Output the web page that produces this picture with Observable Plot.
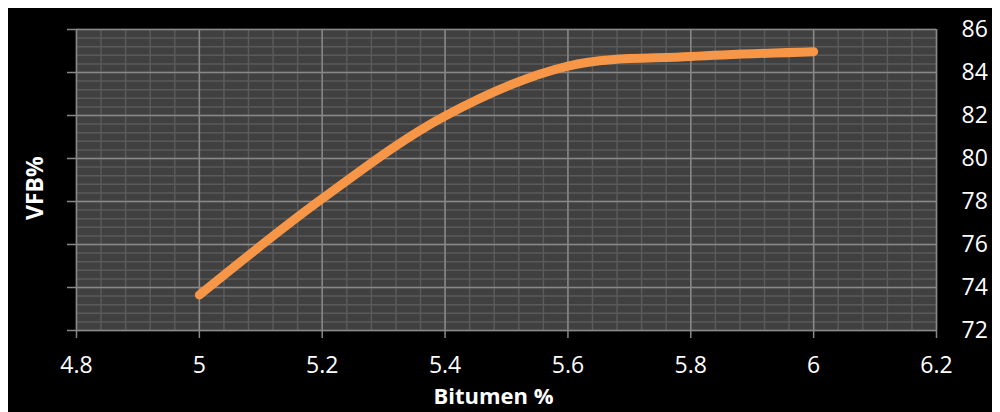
<!DOCTYPE html>
<html>
<head>
<meta charset="utf-8">
<script src="https://cdn.jsdelivr.net/npm/d3@7"></script>
<script src="https://cdn.jsdelivr.net/npm/@observablehq/plot@0.6"></script>
<style>
  html, body { background: #ffffff; }
  body { margin: 8px; overflow: hidden; }
  svg { display: block; max-width: none !important; }
</style>
</head>
<body>
<div id="chart"></div>
<script>
// Data
const bitumen = [5.0, 5.2, 5.4, 5.6, 5.8, 6.0];
const vfb = [73.65, 78.13, 81.98, 84.30, 84.74, 84.97];

const xTicks = [4.8, 5.0, 5.2, 5.4, 5.6, 5.8, 6.0, 6.2];
const xTickLabels = ["4.8", "5", "5.2", "5.4", "5.6", "5.8", "6", "6.2"];
const yTicks = [72, 74, 76, 78, 80, 82, 84, 86];

const xMinorStep = 0.04;
const yMinorStep = 0.4;

const data = bitumen.map((b, i) => ({b, v: vfb[i]}));
const xMinor = d3.range(0, 36).map(i => +(4.8 + i * xMinorStep).toFixed(2));
const yMinor = d3.range(0, 36).map(i => +(72 + i * yMinorStep).toFixed(1));

const chart = Plot.plot({
  width: 1000,
  height: 412,
  marginLeft: 68,
  marginRight: 72,
  marginTop: 21,
  marginBottom: 90,
  style: {background: "#000000", color: "#ffffff", fontFamily: "'Open Sans', sans-serif", fontSize: "23px", overflow: "visible", maxWidth: "none"},
  x: {domain: [4.8, 6.2]},
  y: {domain: [72, 86]},
  marks: [
    Plot.frame({fill: "#404040", stroke: null}),
    Plot.ruleX(xMinor, {stroke: "#5a5a5a", strokeWidth: 1.5}),
    Plot.ruleY(yMinor, {stroke: "#5a5a5a", strokeWidth: 1.5}),
    Plot.ruleX(xTicks, {stroke: "#888888", strokeWidth: 1.5}),
    Plot.ruleY(yTicks, {stroke: "#888888", strokeWidth: 1.5}),
    Plot.axisX({ticks: xTicks, tickFormat: (d, i) => xTickLabels[i], tickSize: 8, tickPadding: 18, stroke: "#888888", strokeWidth: 1.5, fill: "#ffffff", fontSize: 23, label: null}),
    Plot.axisY({anchor: "left", ticks: yTicks, tickFormat: () => "", tickSize: 9, stroke: "#888888", strokeWidth: 1.5, label: null}),
    Plot.axisY({anchor: "right", ticks: yTicks, tickSize: 0, tickPadding: 25, fill: "#ffffff", fontSize: 23, label: null}),
    Plot.line(data, {x: "b", y: "v", curve: "catmull-rom", stroke: "#f79646", strokeWidth: 9, strokeLinecap: "round", strokeLinejoin: "round"}),
    Plot.text(["Bitumen %"], {frameAnchor: "bottom", dx: -13, dy: 66, lineAnchor: "middle", fill: "#ffffff", fontWeight: "bold", fontSize: 22}),
    Plot.text(["VFB%"], {frameAnchor: "left", dx: -41, dy: 40, rotate: -90, lineAnchor: "middle", fill: "#ffffff", fontWeight: "bold", fontSize: 23})
  ]
});
document.getElementById("chart").appendChild(chart);
</script>
</body>
</html>
